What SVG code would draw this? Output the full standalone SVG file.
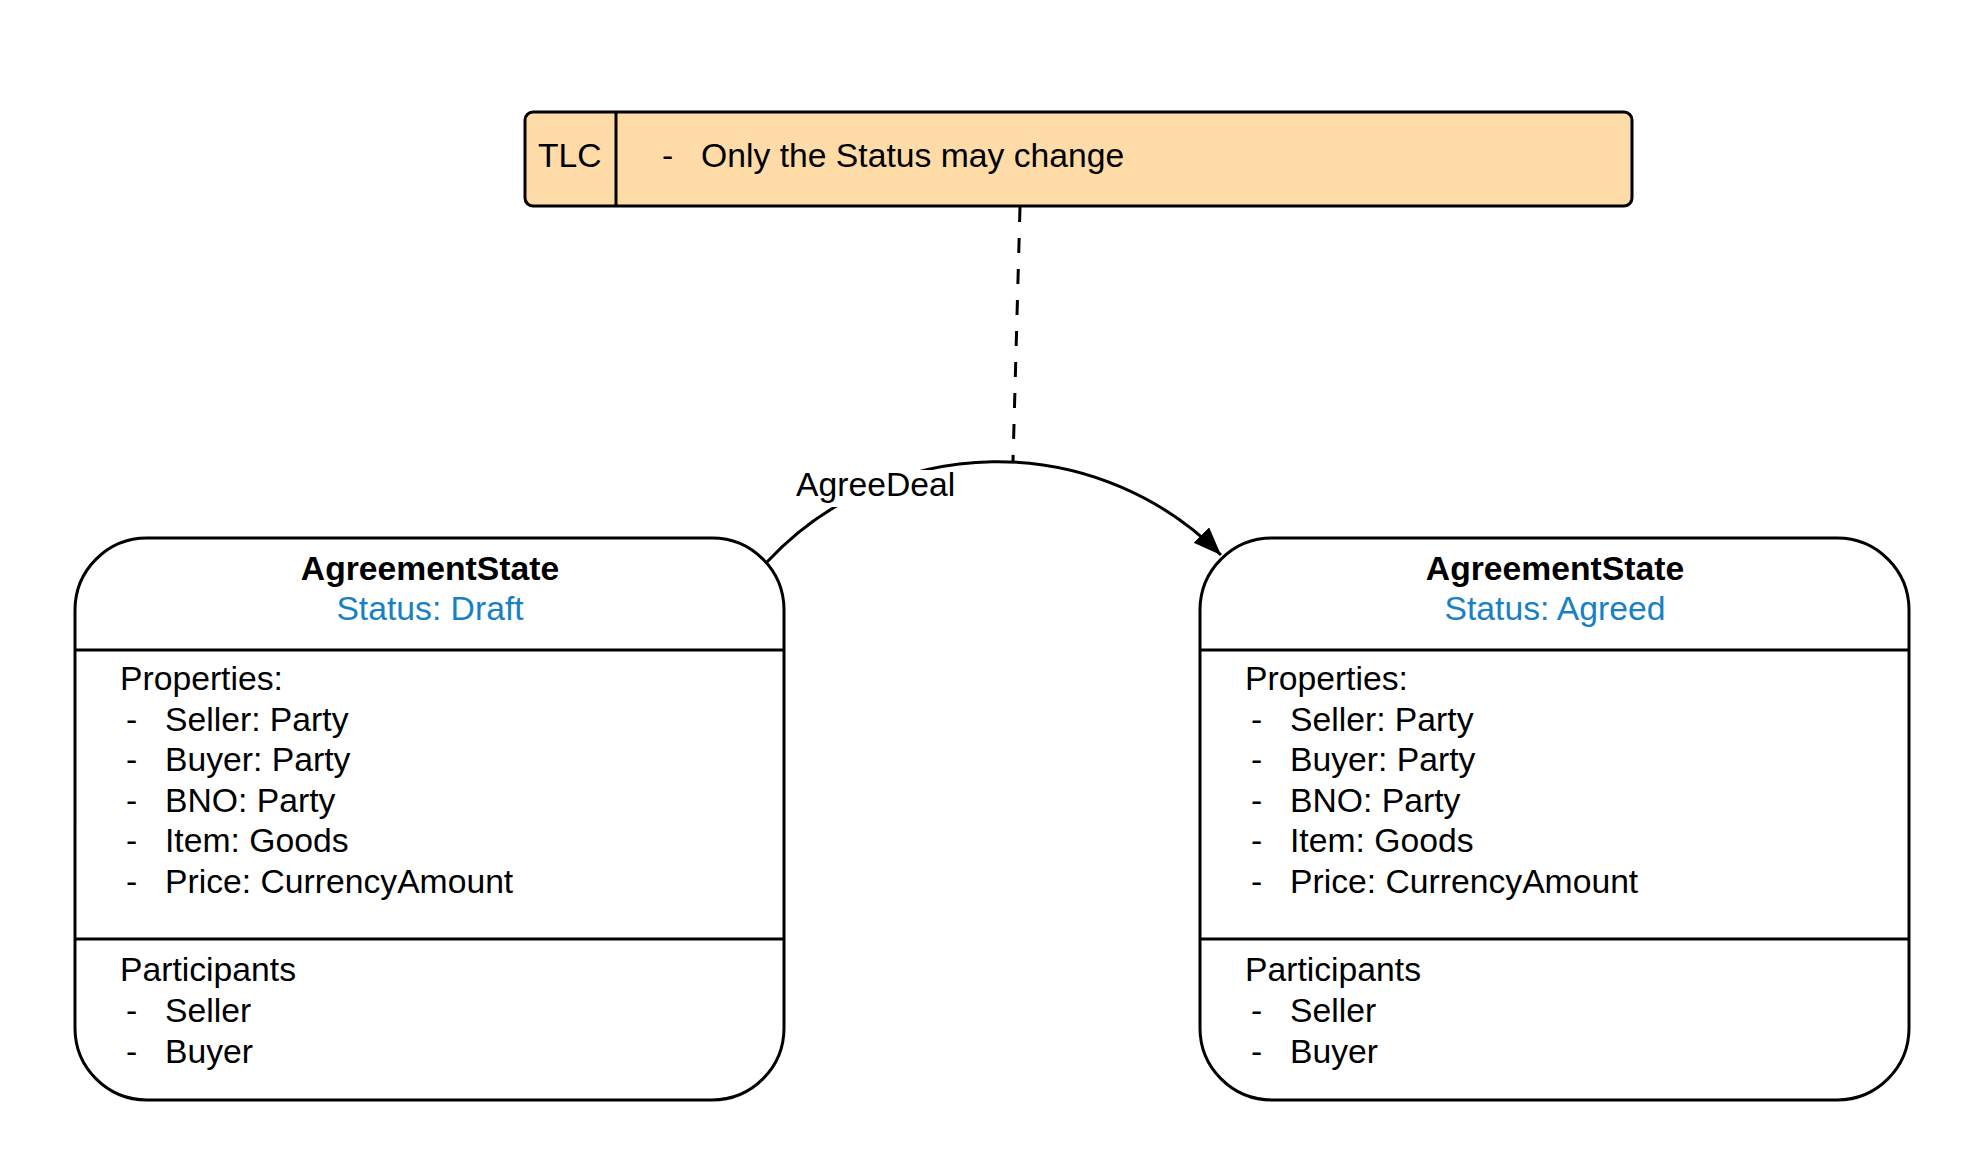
<svg xmlns="http://www.w3.org/2000/svg" width="1984" height="1174" viewBox="0 0 1984 1174">
  <style>
    text { font-family: "Liberation Sans", Arial, sans-serif; font-size: 33.7px; fill: #000000; }
    .title { font-weight: bold; text-anchor: middle; }
    .status { fill: #1880c4; text-anchor: middle; }
    .shape { fill: #ffffff; stroke: #000000; stroke-width: 3; }
    .div { stroke: #000000; stroke-width: 3; }
    .conn { fill: none; stroke: #000000; stroke-width: 3; }
  </style>
  <defs>
    <marker id="arrow" markerUnits="userSpaceOnUse" markerWidth="30" markerHeight="24" refX="28" refY="11" orient="auto">
      <path d="M0,0 L28,11 L0,22 Z" fill="#000000"/>
    </marker>
  </defs>
  <rect width="1984" height="1174" fill="#ffffff"/>

  <g id="connectors">
    <path id="dashed-link" class="conn" d="M1020,207 L1013,461" stroke-dasharray="15,16"/>
    <path id="agree-deal" class="conn" d="M767,562 A314.6,314.6 0 0 1 1221,555" marker-end="url(#arrow)"/>
    <g id="agree-deal-label">
      <rect x="790" y="470" width="170" height="37" fill="#ffffff"/>
      <text x="796" y="496">AgreeDeal</text>
    </g>
  </g>

  <g id="tlc-note">
    <rect x="525" y="112" width="1107" height="94" rx="8" ry="8" fill="#ffdba8" stroke="#000000" stroke-width="3"/>
    <line class="div" x1="616" y1="112" x2="616" y2="206"/>
    <text x="538" y="167">TLC</text>
    <text x="662" y="167">-</text>
    <text x="701" y="167">Only the Status may change</text>
  </g>

  <g id="state-draft">
    <rect class="shape" x="75" y="538" width="709" height="562" rx="72" ry="72"/>
    <line class="div" x1="75" y1="650" x2="784" y2="650"/>
    <line class="div" x1="75" y1="939" x2="784" y2="939"/>
    <text class="title" x="430" y="580">AgreementState</text>
    <text class="status" x="430" y="620">Status: Draft</text>
    <text x="120" y="690">Properties:</text>
    <text x="126" y="731">-</text><text x="165" y="731">Seller: Party</text>
    <text x="126" y="771">-</text><text x="165" y="771">Buyer: Party</text>
    <text x="126" y="812">-</text><text x="165" y="812">BNO: Party</text>
    <text x="126" y="852">-</text><text x="165" y="852">Item: Goods</text>
    <text x="126" y="893">-</text><text x="165" y="893">Price: CurrencyAmount</text>
    <text x="120" y="981">Participants</text>
    <text x="126" y="1022">-</text><text x="165" y="1022">Seller</text>
    <text x="126" y="1063">-</text><text x="165" y="1063">Buyer</text>
  </g>

  <g id="state-agreed">
    <rect class="shape" x="1200" y="538" width="709" height="562" rx="72" ry="72"/>
    <line class="div" x1="1200" y1="650" x2="1909" y2="650"/>
    <line class="div" x1="1200" y1="939" x2="1909" y2="939"/>
    <text class="title" x="1555" y="580">AgreementState</text>
    <text class="status" x="1555" y="620">Status: Agreed</text>
    <text x="1245" y="690">Properties:</text>
    <text x="1251" y="731">-</text><text x="1290" y="731">Seller: Party</text>
    <text x="1251" y="771">-</text><text x="1290" y="771">Buyer: Party</text>
    <text x="1251" y="812">-</text><text x="1290" y="812">BNO: Party</text>
    <text x="1251" y="852">-</text><text x="1290" y="852">Item: Goods</text>
    <text x="1251" y="893">-</text><text x="1290" y="893">Price: CurrencyAmount</text>
    <text x="1245" y="981">Participants</text>
    <text x="1251" y="1022">-</text><text x="1290" y="1022">Seller</text>
    <text x="1251" y="1063">-</text><text x="1290" y="1063">Buyer</text>
  </g>
</svg>
